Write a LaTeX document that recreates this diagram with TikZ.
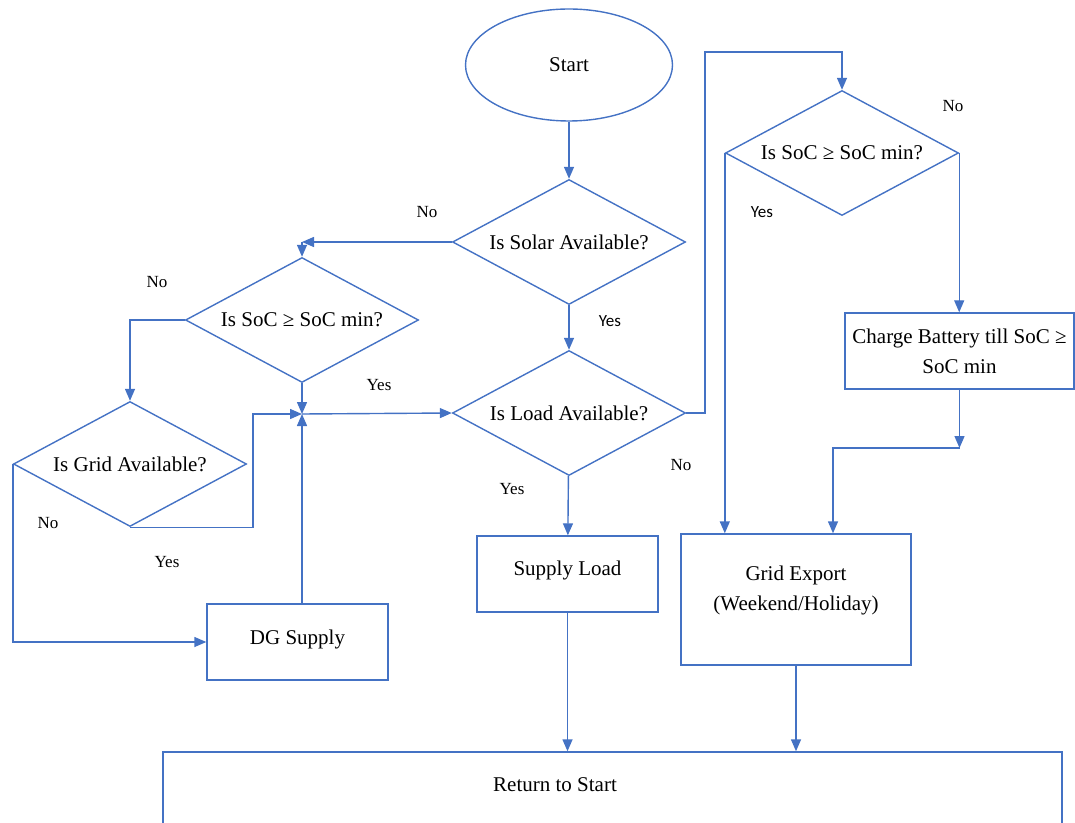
\documentclass[tikz,border=0pt]{standalone}
\usepackage{fontspec}
\setmainfont{Liberation Serif}
\newfontfamily\lblsans{Carlito}
\usetikzlibrary{shapes.geometric,arrows.meta}
\definecolor{flow}{HTML}{4472C4}

\begin{document}
\begin{tikzpicture}[x=0.5pt,y=-0.5pt,
  font=\fontsize{10.5}{15}\selectfont,
  box/.style={draw=flow,line width=0.7pt,align=center,inner sep=0pt},
  dec/.style={draw=flow,line width=0.7pt,diamond,aspect=2,inner sep=0pt,minimum width=116.5pt,minimum height=62.5pt},
  term/.style={draw=flow,line width=0.7pt,ellipse,inner sep=0pt,minimum width=103.5pt,minimum height=56pt},
  lbl/.style={font=\fontsize{8.5}{10}\selectfont},
  lblsf/.style={font=\lblsans\fontsize{8.5}{10}\selectfont},
  arr/.style={-{Triangle[length=6pt,width=5pt]},draw=flow,line width=0.7pt}]
  \useasboundingbox (0,0) rectangle (1075,823);
  \node[term] (start) at (569,65) {Start};
  \node[dec] (solar) at (569,242) {Is Solar Available?};
  \node[dec] (soc1) at (302,320) {Is SoC ≥ SoC min?};
  \node[dec] (grid) at (130,464) {Is Grid Available?};
  \node[dec] (load) at (569,413) {Is Load Available?};
  \node[dec] (soc2) at (842,153) {Is SoC ≥ SoC min?};
  \node[box,minimum width=90.5pt,minimum height=38pt,text height=7pt,text depth=5pt] (dg) at (297.5,642) {DG Supply};
  \node[box,minimum width=90.5pt,minimum height=38pt,text height=7pt,text depth=6pt] (supply) at (567.5,574) {Supply Load};
  \node[box,minimum width=114.5pt,minimum height=38pt] (charge) at (959.5,351) {Charge Battery till SoC ≥\\SoC min};
  \node[box,minimum width=115pt,minimum height=65.5pt,text height=12pt,text depth=1.5pt] (export) at (796,599.5) {Grid Export\\(Weekend/Holiday)};
  \node[box,minimum width=449.5pt,minimum height=50pt] (ret) at (612.5,802) {};
  \node (rettext) at (555,785) {Return to Start};

  \node[lbl] (nsolar) at (427,212) {No};
  \node[lbl] (nsoc1) at (157,282) {No};
  \node[lbl] (ysoc1) at (379,385) {Yes};
  \node[lbl] (ngrid) at (48,523) {No};
  \node[lbl] (ygrid) at (167,562) {Yes};
  \node[lblsf] (ysolar) at (610,321) {Yes};
  \node[lbl] (yload) at (512,489) {Yes};
  \node[lbl] (nload) at (681,465) {No};
  \node[lbl] (nsoc2) at (953,106) {No};
  \node[lblsf] (ysoc2) at (762,212) {Yes};

  \coordinate (c1) at (solar.west -| soc1.north);
  \coordinate (j) at (302,414);
  \coordinate (gy) at (253,414);
  \coordinate (ltop) at (705,52);
  \coordinate (c2) at (959.5,448);
  \coordinate (c4) at (833,448);

  \draw[arr] (start) -- (solar);
  \draw[arr] (solar.west) -- (c1);
  \draw[arr] (c1) -- (soc1.north);
  \draw[arr] (soc1.west) -| (grid.north);
  \draw[arr] (soc1.south) -- (j);
  \draw[arr] (grid.south) -| (gy) -- (j);
  \draw[arr] (grid.west) |- (dg.west);
  \draw[arr] (j |- dg.north) -- (j);
  \draw[arr] (j) -- (load.west);
  \draw[arr] (solar) -- (load);
  \draw[arr] (load) -- (supply);
  \draw[arr] (load.east) -| (ltop) -| (soc2.north);
  \draw[arr] (soc2.east) -- (soc2.east |- charge.north);
  \draw[arr] (soc2.west) -- (soc2.west |- export.north);
  \draw[arr] (charge.south) -- (c2);
  \draw[arr] (c2) -| (c4 |- export.north);
  \draw[arr] (supply.south) -- (supply.south |- ret.north);
  \draw[arr] (export.south) -- (export.south |- ret.north);
\end{tikzpicture}
\end{document}
